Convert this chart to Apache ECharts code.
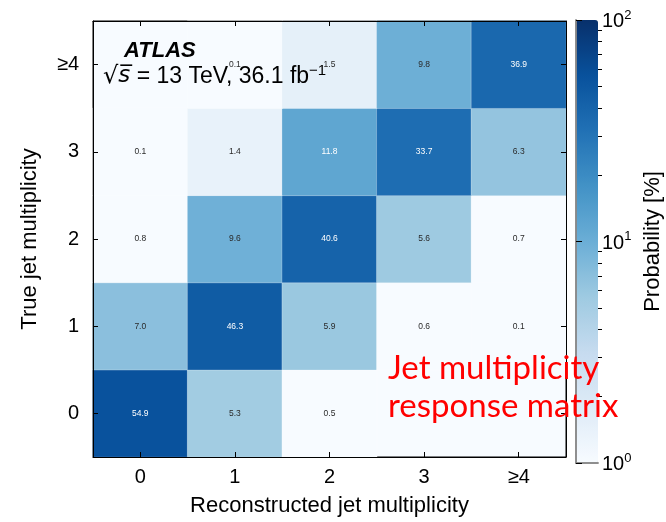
<!DOCTYPE html>
<html><head><meta charset="utf-8">
<script src="https://cdn.jsdelivr.net/npm/echarts@6/dist/echarts.min.js"></script>
<style>html,body{margin:0;padding:0;background:#fff}#c{width:666px;height:522px}</style>
</head><body><div id="c"></div>
<script>
// Categories
const recoCats = ['0', '1', '2', '3', '≥4'];
const trueCats = ['0', '1', '2', '3', '≥4'];
// Probability [%] per true-multiplicity row (columns = reconstructed 0..≥4); null = empty cell
const row0 = [54.9, 5.3, 0.5, null, null];
const row1 = [7.0, 46.3, 5.9, 0.6, 0.1];
const row2 = [0.8, 9.6, 40.6, 5.6, 0.7];
const row3 = [0.1, 1.4, 11.8, 33.7, 6.3];
const row4 = [null, 0.1, 1.5, 9.8, 36.9];
const rows = [row0, row1, row2, row3, row4];
// colour bar tick labels (log10 exponents)
const cbarExponents = [0, 1, 2];

const blues = ['#f7fbff', '#deebf7', '#c6dbef', '#9ecae1', '#6baed6', '#4292c6', '#2171b5', '#08519c', '#08306b'];

const data = [];
rows.forEach((r, yi) => r.forEach((v, xi) => {
  if (v === null) return;
  data.push({
    value: [xi, yi, Math.min(2, Math.max(0, Math.log10(v))), v],
    label: { color: v > 10 ? '#ffffff' : '#2a2a2a' }
  });
}));

const minorTicks = [];
[0, 1].forEach(d => { for (let k = 2; k <= 9; k++) minorTicks.push(d + Math.log10(k)); });

const FONT = 'Liberation Sans';
const chart = echarts.init(document.getElementById('c'), null, { renderer: 'canvas' });
chart.setOption({
  animation: false,
  textStyle: { fontFamily: FONT },
  grid: [
    { left: 93, top: 21, width: 473, height: 442, show: true, borderColor: '#000', borderWidth: 1, backgroundColor: '#f7fbff' },
    { left: 576, top: 20, width: 22, height: 443, show: false }
  ],
  xAxis: [
    { type: 'category', gridIndex: 0, data: recoCats, position: 'bottom', z: 5,
      name: 'Reconstructed jet multiplicity', nameLocation: 'middle', nameGap: 38,
      nameTextStyle: { fontSize: 22, color: '#000', fontFamily: FONT },
      axisLine: { show: true, lineStyle: { color: '#000' } },
      axisTick: { show: true, inside: true, alignWithLabel: true, length: 5, lineStyle: { color: '#000' } },
      axisLabel: { fontSize: 20, color: '#000', margin: 10, fontFamily: FONT },
      splitLine: { show: false } },
    { type: 'category', gridIndex: 0, data: recoCats, position: 'top', z: 5,
      axisLine: { show: true, lineStyle: { color: '#000' } },
      axisTick: { show: true, inside: true, alignWithLabel: true, length: 5, lineStyle: { color: '#000' } },
      axisLabel: { show: false }, splitLine: { show: false } },
    { type: 'value', gridIndex: 1, min: 0, max: 1, position: 'bottom', show: true,
      axisLine: { show: true, lineStyle: { color: '#888', width: 1.5 } }, axisTick: { show: false }, axisLabel: { show: false }, splitLine: { show: false }, z: 10 },
    { type: 'value', gridIndex: 1, min: 0, max: 1, position: 'top', show: true,
      axisLine: { show: true, lineStyle: { color: '#888', width: 1.5 } }, axisTick: { show: false }, axisLabel: { show: false }, splitLine: { show: false }, z: 10 }
  ],
  yAxis: [
    { type: 'category', gridIndex: 0, data: trueCats, position: 'left', z: 5,
      name: 'True jet multiplicity', nameLocation: 'middle', nameGap: 52, nameRotate: 90,
      nameTextStyle: { fontSize: 22, color: '#000', fontFamily: FONT },
      axisLine: { show: true, lineStyle: { color: '#000' } },
      axisTick: { show: true, inside: true, alignWithLabel: true, length: 5, lineStyle: { color: '#000' } },
      axisLabel: { fontSize: 20, color: '#000', margin: 14, fontFamily: FONT },
      splitLine: { show: false } },
    { type: 'category', gridIndex: 0, data: trueCats, position: 'right', z: 5,
      axisLine: { show: true, lineStyle: { color: '#000' } },
      axisTick: { show: true, inside: true, alignWithLabel: true, length: 5, lineStyle: { color: '#000' } },
      axisLabel: { show: false }, splitLine: { show: false } },
    { type: 'value', gridIndex: 1, min: 0, max: 2, position: 'right',
      name: 'Probability [%]', nameLocation: 'middle', nameGap: 44, nameRotate: 90,
      nameTextStyle: { fontSize: 22, color: '#000', fontFamily: FONT },
      axisLine: { show: true, lineStyle: { color: '#888', width: 1.5 } },
      axisTick: { show: true, inside: false, length: 6, lineStyle: { color: '#000' }, customValues: cbarExponents },
      axisLabel: { show: true, margin: 4, customValues: cbarExponents,
        formatter: v => '{b|10}{s|' + v + '}',
        rich: { b: { fontSize: 20, color: '#000', fontFamily: FONT, verticalAlign: 'bottom' },
                s: { fontSize: 13, color: '#000', fontFamily: FONT, verticalAlign: 'top', padding: [0, 0, 10, 0] } } },
      splitLine: { show: false }, z: 10 },
    { type: 'value', gridIndex: 1, min: 0, max: 2, position: 'left',
      axisLine: { show: true, lineStyle: { color: '#888', width: 1.5 } },
      axisTick: { show: false }, axisLabel: { show: false }, splitLine: { show: false }, z: 10 },
    { type: 'value', gridIndex: 1, min: 0, max: 2, position: 'right',
      axisLine: { show: false },
      axisTick: { show: true, inside: false, length: 4, lineStyle: { color: '#000' }, customValues: minorTicks },
      axisLabel: { show: false }, splitLine: { show: false }, z: 10 }
  ],
  visualMap: {
    type: 'continuous', min: 0, max: 2, dimension: 2, seriesIndex: 0,
    calculable: false, show: true, orient: 'vertical',
    left: 576, top: 20, itemWidth: 22, itemHeight: 443, padding: 0,
    text: null, showLabel: false,
    inRange: { color: blues }
  },
  series: [{
    type: 'heatmap', xAxisIndex: 0, yAxisIndex: 0, data: data,
    itemStyle: { borderColor: 'rgba(255,255,255,0.25)', borderWidth: 1 },
    label: { show: true, fontSize: 8.5, fontFamily: FONT,
      formatter: p => p.value[3].toFixed(1) },
    emphasis: { disabled: true }
  }],
  graphic: [
    { type: 'text', left: 124, top: 40, z: 20,
      style: { text: 'ATLAS', font: 'italic bold 22px "Liberation Sans"', fill: '#000' } },
    { type: 'text', left: 103, top: 63, z: 20,
      style: { text: '{r|√}{s|s̅}{t| = 13 TeV, 36.1 fb}{e|−1}',
        rich: { r: { font: '24px "DejaVu Sans"', fill: '#000' },
                s: { font: 'italic 23px "DejaVu Sans"', fill: '#000' },
                t: { font: '23px "Liberation Sans"', fill: '#000' },
                e: { font: '15px "Liberation Sans"', fill: '#000', verticalAlign: 'top', padding: [0, 0, 12, 0] } } } },
    { type: 'text', left: 388, top: 349, z: 20,
      style: { text: 'Jet multiplicity\nresponse matrix', font: '33px Lato', fill: '#ff0000', lineHeight: 38 } }
  ]
});
</script></body></html>
